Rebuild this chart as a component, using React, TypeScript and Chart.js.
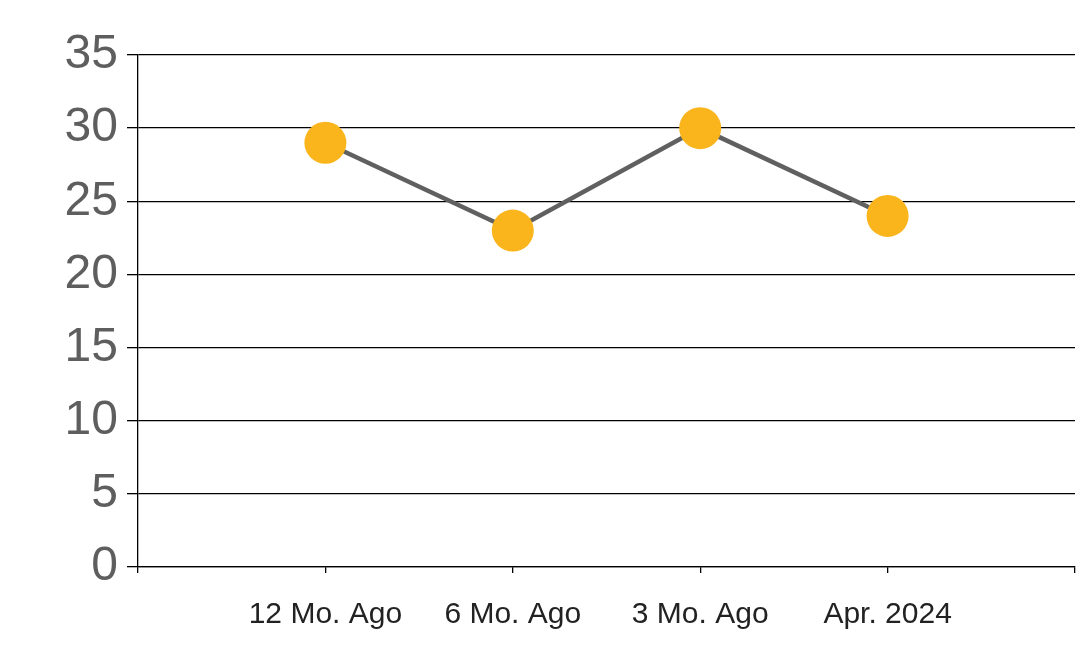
import React, { useEffect, useRef } from "react";
import { Chart, registerables } from "chart.js";

Chart.register(...registerables);

const categories = ["", "12 Mo. Ago", "6 Mo. Ago", "3 Mo. Ago", "Apr. 2024", ""];
const values: (number | null)[] = [null, 29, 23, 30, 24, null];
const yMin = 0;
const yMax = 35;
const yStep = 5;

export default function App() {
  const ref = useRef<HTMLCanvasElement | null>(null);
  useEffect(() => {
    if (!ref.current) return;
    const chart = new Chart(ref.current, {
      type: "line",
      data: {
        labels: categories,
        datasets: [
          {
            data: values,
            borderColor: "#606060",
            borderWidth: 4.5,
            pointBackgroundColor: "#F9B51B",
            pointBorderColor: "#F9B51B",
            pointRadius: 21,
            pointBorderWidth: 0,
            tension: 0,
            spanGaps: false,
          },
        ],
      },
      options: {
        animation: false,
        responsive: false,
        maintainAspectRatio: false,
        layout: { autoPadding: false, padding: { top: 55, right: 3, bottom: 0, left: 0 } },
        plugins: { legend: { display: false }, tooltip: { enabled: false } },
        scales: {
          x: {
            offset: false,
            grid: {
              display: true,
              drawOnChartArea: false,
              drawTicks: true,
              tickLength: 6,
              color: "#000000",
              lineWidth: 1.3,
            },
            border: { display: true, color: "#000000", width: 1.3 },
            ticks: {
              color: "#222222",
              font: { family: "Liberation Sans, Arial", size: 30 },
              padding: 24,
              maxRotation: 0,
              autoSkip: false,
            },
            afterFit: (s: any) => {
              s.height = 96;
              s.paddingLeft = 0;
              s.paddingRight = 0;
            },
          },
          y: {
            min: yMin,
            max: yMax,
            ticks: {
              stepSize: yStep,
              color: "#5E5E5E",
              font: { family: "Liberation Sans, Arial", size: 48 },
              padding: 9,
            },
            grid: {
              color: "#000000",
              lineWidth: 1.3,
              tickLength: 11,
            },
            border: { display: true, color: "#000000", width: 1.3 },
            afterFit: (s: any) => {
              s.width = 138;
              s.paddingTop = 0;
              s.paddingBottom = 0;
            },
          },
        },
      },
    });
    return () => chart.destroy();
  }, []);
  return (
    <div style={{ position: "fixed", left: 0, top: 0, width: 1078, height: 663, background: "#fff" }}>
      <canvas ref={ref} width={1078} height={663} style={{ width: 1078, height: 663 }} />
    </div>
  );
}
